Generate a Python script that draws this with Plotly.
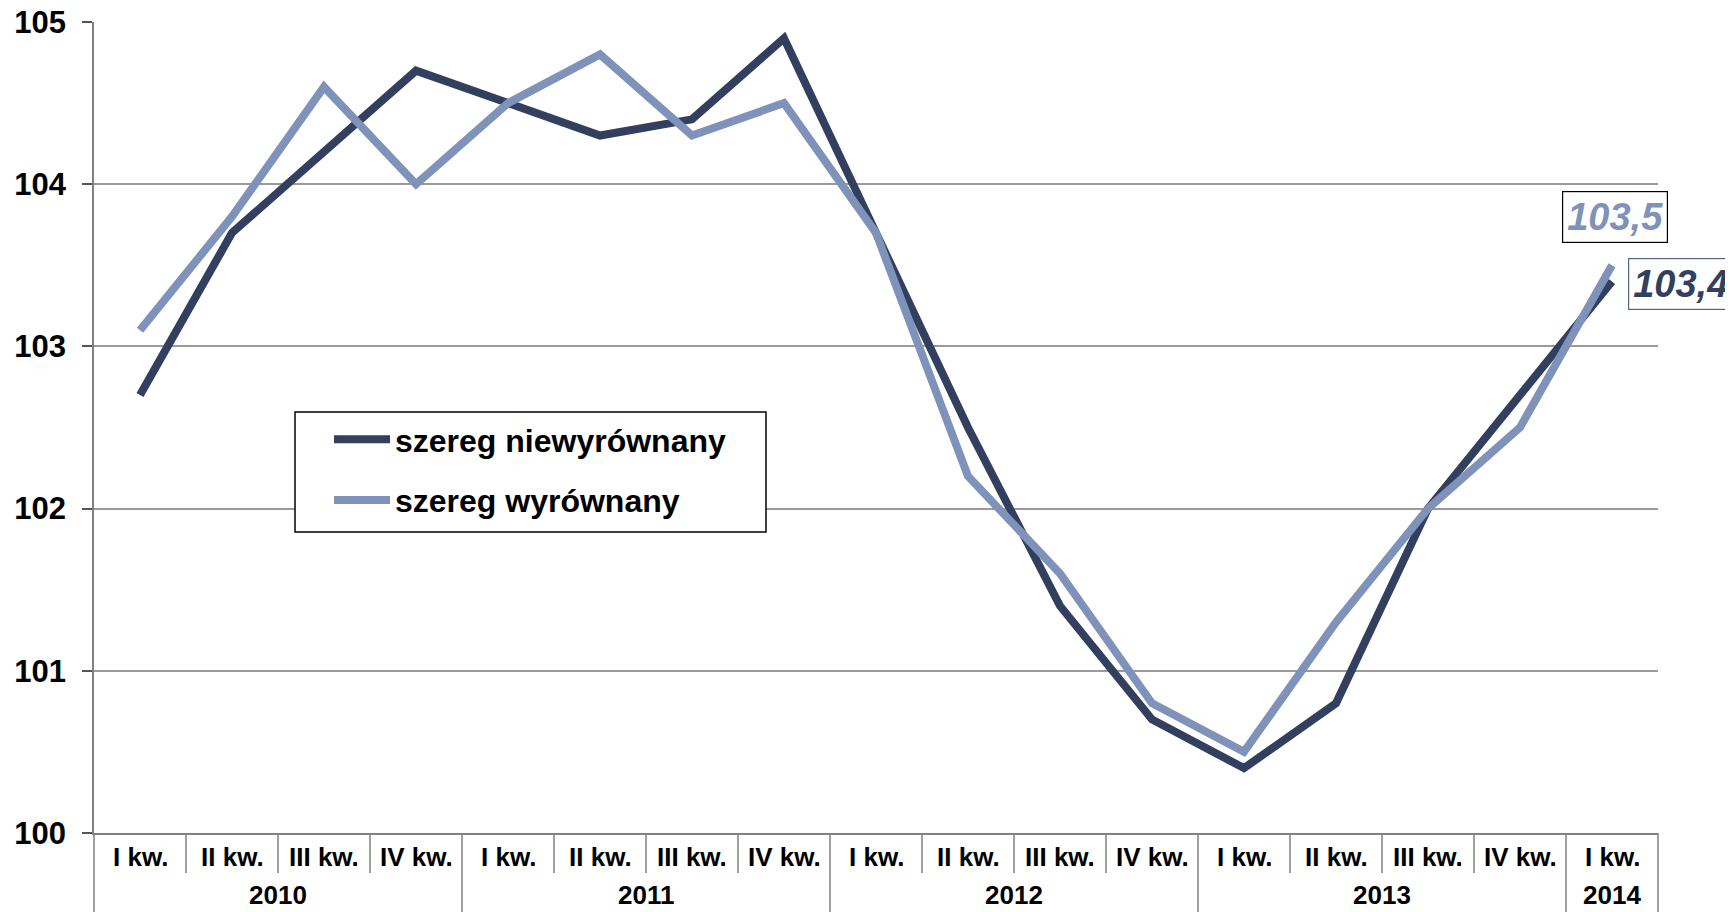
import plotly.graph_objects as go

years = ["2010"] * 4 + ["2011"] * 4 + ["2012"] * 4 + ["2013"] * 4 + ["2014"]
quarters = ["I kw.", "II kw.", "III kw.", "IV kw."] * 4 + ["I kw."]
year_groups = ["2010", "2011", "2012", "2013", "2014"]

unadjusted = [102.7, 103.7, 104.2, 104.7, 104.5, 104.3, 104.4, 104.9, 103.7, 102.5,
              101.4, 100.7, 100.4, 100.8, 102.0, 102.7, 103.4]
adjusted = [103.1, 103.8, 104.6, 104.0, 104.5, 104.8, 104.3, 104.5, 103.7, 102.2,
            101.6, 100.8, 100.5, 101.3, 102.0, 102.5, 103.5]

name_unadj = "szereg niewyrównany"
name_adj = "szereg wyrównany"
label_unadj = "103,4"
label_adj = "103,5"

DARK = "#333F5E"
LIGHT = "#7F92B9"
GRID = "#9A9A9A"
AXIS = "#808080"
FONT = "Liberation Sans, Arial, sans-serif"

cats = [f"{q} {y}" for q, y in zip(quarters, years)]
n = len(cats)

fig = go.Figure()
fig.add_trace(go.Scatter(x=cats, y=unadjusted, mode="lines", name=name_unadj,
                         line=dict(color=DARK, width=8), legendgroup="a"))
fig.add_trace(go.Scatter(x=cats, y=adjusted, mode="lines", name=name_adj,
                         line=dict(color=LIGHT, width=8), legendgroup="b"))

# page is rendered with an 8px body margin
OFF = 8
W, H = 1733 - OFF, 912 - OFF
ml, mt = 94 - OFF, 22 - OFF
mr = W - (1658 - OFF)
mb = H - (833 - OFF)
pw = W - ml - mr
ph = H - mt - mb


def px_x(x):
    return (x - OFF - ml) / pw


def px_y(y):
    return (H - mb - (y - OFF)) / ph


shapes = []
year_end = []
for i in range(1, n):
    if years[i] != years[i - 1]:
        year_end.append(i)
for i in range(1, n):
    long_line = i in year_end
    shapes.append(dict(type="line", xref="x", yref="paper", x0=i - 0.5, x1=i - 0.5,
                       y0=0, y1=-95 / ph if long_line else -40 / ph,
                       line=dict(color=AXIS, width=1.5)))
for xp in (0, 1):
    shapes.append(dict(type="line", xref="paper", yref="paper", x0=xp, x1=xp,
                       y0=0, y1=-95 / ph, line=dict(color=AXIS, width=1.5)))

# legend frame
shapes.append(dict(type="rect", xref="paper", yref="paper",
                   x0=px_x(295), x1=px_x(766), y0=px_y(532), y1=px_y(412),
                   line=dict(color="black", width=1.5), fillcolor="white", layer="above"))

annotations = []
for c, q in zip(cats, quarters):
    annotations.append(dict(x=c, xref="x", y=0, yref="paper", text=q, showarrow=False,
                            yshift=-24, yanchor="middle",
                            font=dict(family=FONT, size=26, color="black", weight="bold")))
for yg in year_groups:
    idx = [i for i, y in enumerate(years) if y == yg]
    center = (idx[0] + idx[-1]) / 2
    annotations.append(dict(x=center, xref="x", y=0, yref="paper", text=yg, showarrow=False,
                            yshift=-62, yanchor="middle",
                            font=dict(family=FONT, size=26, color="black", weight="bold")))

annotations.append(dict(x=cats[-1], xref="x", y=adjusted[-1], yref="y", text=label_adj,
                        showarrow=False, xshift=3, yshift=48, bordercolor="black", borderwidth=1.2,
                        borderpad=4, bgcolor="white",
                        font=dict(family=FONT, size=38, color=LIGHT, weight="bold", style="italic")))
annotations.append(dict(x=cats[-1], xref="x", y=unadjusted[-1], yref="y", text=label_unadj,
                        showarrow=False, xshift=68, yshift=-2, bordercolor="#56657F", borderwidth=1.2,
                        borderpad=4, bgcolor="white",
                        font=dict(family=FONT, size=38, color=DARK, weight="bold", style="italic")))

fig.update_layout(
    width=W, height=H,
    margin=dict(l=ml, r=mr, t=mt, b=mb, pad=0),
    plot_bgcolor="white", paper_bgcolor="white",
    font=dict(family=FONT, color="black"),
    shapes=shapes, annotations=annotations,
    showlegend=True,
    legend=dict(x=px_x(329), y=px_y(412),
                xanchor="left", yanchor="top",
                borderwidth=0, bgcolor="rgba(0,0,0,0)",
                font=dict(family=FONT, size=32, color="black", weight="bold"),
                tracegroupgap=16, itemwidth=56),
    xaxis=dict(type="category", categoryorder="array", categoryarray=cats,
               range=[-0.5, n - 0.5], showticklabels=False, ticks="",
               showgrid=False, showline=True, linecolor=AXIS, linewidth=1.5,
               zeroline=False, fixedrange=True, automargin=False),
    yaxis=dict(range=[100, 105], dtick=1, tick0=100, showgrid=True, gridcolor=GRID,
               gridwidth=1.5, showline=True, linecolor=AXIS, linewidth=1.5,
               mirror=False,
               ticks="outside", ticklen=10, tickcolor="#555555", tickwidth=1.5,
               ticklabelstandoff=10, zeroline=False, automargin=False,
               ticklabeloverflow="allow",
               tickfont=dict(family=FONT, size=31, color="black", weight="bold")),
)

fig.write_html("out.html")
